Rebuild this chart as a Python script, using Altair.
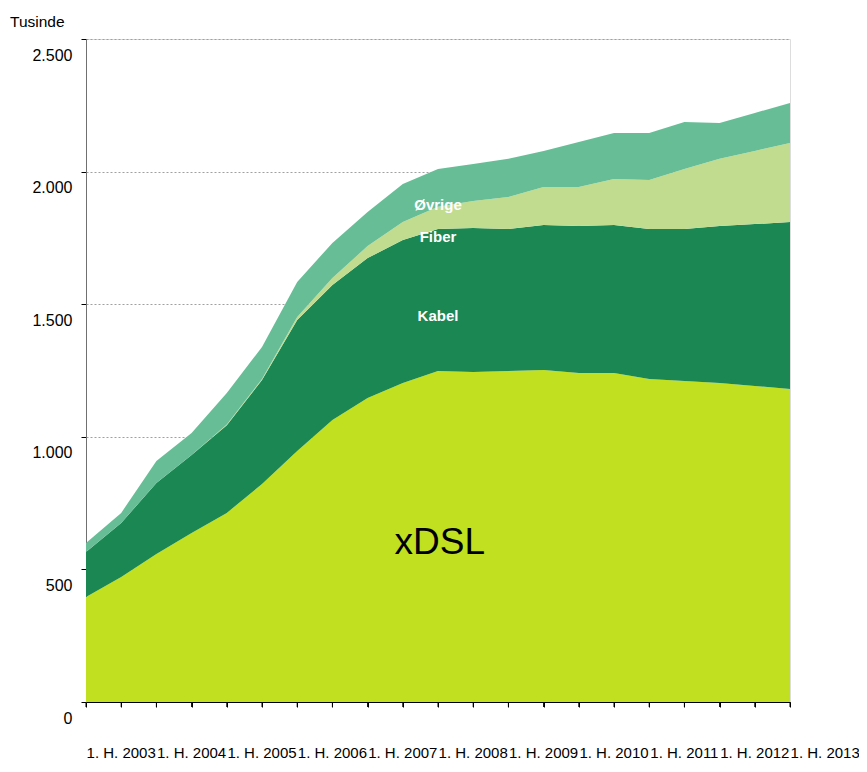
import altair as alt
import pandas as pd

# ---- data (thousands) ----
x_index = list(range(21))
series_names = ["xDSL", "Kabel", "Fiber", "Øvrige"]
series_colors = ["#C0E020", "#1B8752", "#C1DC8F", "#67BE96"]

xdsl = [396, 471, 558, 637, 713, 822, 946, 1063, 1146, 1203, 1248, 1244, 1248, 1252, 1241, 1241, 1218, 1210, 1203, 1192, 1180]
kabel = [170, 204, 268, 294, 331, 392, 494, 509, 528, 539, 536, 543, 536, 547, 554, 558, 566, 574, 592, 610, 630]
fiber = [0, 0, 0, 0, 2, 4, 12, 27, 45, 68, 83, 102, 120, 143, 147, 173, 184, 226, 253, 276, 298]
ovrige = [34, 38, 83, 83, 119, 121, 132, 132, 129, 143, 143, 140, 144, 136, 170, 174, 178, 177, 135, 143, 151]

x_label_pos = [1, 3, 5, 7, 9, 11, 13, 15, 17, 19, 21]
x_label_text = ["1. H. 2003", "1. H. 2004", "1. H. 2005", "1. H. 2006", "1. H. 2007", "1. H. 2008",
                "1. H. 2009", "1. H. 2010", "1. H. 2011", "1. H. 2012", "1. H. 2013"]

annot_text = ["Øvrige", "Fiber", "Kabel"]
annot_x = [10, 10, 10]
annot_y = [1874, 1753, 1455]
big_text = ["xDSL"]
big_x = [10.05]
big_y = [600]

y_ticks = [0, 500, 1000, 1500, 2000, 2500]

FONT = "Liberation Sans"

rows = []
for order, (name, vals) in enumerate(zip(series_names, [xdsl, kabel, fiber, ovrige])):
    for i, v in zip(x_index, vals):
        rows.append({"i": i, "value": v, "series": name, "order": order})
df = pd.DataFrame(rows)

xscale = alt.Scale(domain=[0, 20], nice=False, zero=False)
yscale = alt.Scale(domain=[0, 2500], nice=False)

area = alt.Chart(df).mark_area(interpolate="linear").encode(
    x=alt.X("i:Q", scale=xscale,
            axis=alt.Axis(values=x_index, labels=False, ticks=True, tickSize=5, tickCount=21,
                          tickColor="#000000", domainColor="#000000", grid=False, title=None)),
    y=alt.Y("value:Q", stack="zero", scale=yscale,
            axis=alt.Axis(values=y_ticks, title=None, grid=True, gridDash=[2, 2],
                          gridColor="#A0A0A0", domainColor="#707070", tickColor="#000000",
                          tickSize=5, labelPadding=9, labelOffset=16,
                          labelExpr="replace(format(datum.value, ','), ',', '.')",
                          labelFont=FONT, labelFontSize=16, labelColor="#000000")),
    color=alt.Color("series:N", scale=alt.Scale(domain=series_names, range=series_colors), legend=None),
    order=alt.Order("order:Q"),
)

tick_df = pd.DataFrame({"i": x_index})
xticks = alt.Chart(tick_df).mark_rule(color="#000000", strokeWidth=1).encode(
    x=alt.X("i:Q", scale=xscale),
    y=alt.value(663),
    y2=alt.value(668),
)

xl_df = pd.DataFrame({"i": x_label_pos, "t": x_label_text})
xlabels = alt.Chart(xl_df).mark_text(font=FONT, fontSize=15, color="#000000",
                                     align="center", baseline="middle").encode(
    x=alt.X("i:Q", scale=xscale),
    y=alt.value(714),
    text="t:N",
)

an_df = pd.DataFrame({"i": annot_x, "v": annot_y, "t": annot_text})
annots = alt.Chart(an_df).mark_text(font=FONT, fontSize=15, fontWeight="bold", color="#FFFFFF",
                                    align="center", baseline="middle").encode(
    x=alt.X("i:Q", scale=xscale),
    y=alt.Y("v:Q", scale=yscale),
    text="t:N",
)

big_df = pd.DataFrame({"i": big_x, "v": big_y, "t": big_text})
big = alt.Chart(big_df).mark_text(font=FONT, fontSize=37, color="#000000",
                                  align="center", baseline="middle").encode(
    x=alt.X("i:Q", scale=xscale),
    y=alt.Y("v:Q", scale=yscale),
    text="t:N",
)

unit_df = pd.DataFrame({"t": ["Tusinde"]})
unit = alt.Chart(unit_df).mark_text(font=FONT, fontSize=15.5, color="#000000",
                                    align="left", baseline="middle").encode(
    x=alt.value(-76),
    y=alt.value(-17),
    text="t:N",
)

chart = alt.layer(area, xticks, xlabels, annots, big, unit).properties(
    width=704, height=663,
    autosize=alt.AutoSizeParams(type="none"),
    padding={"left": 78, "top": 31, "right": 69, "bottom": 62},
).configure_view(stroke=None).configure(background="#FFFFFF")

chart.save("out.html", embed_options={"renderer": "svg", "actions": False})
